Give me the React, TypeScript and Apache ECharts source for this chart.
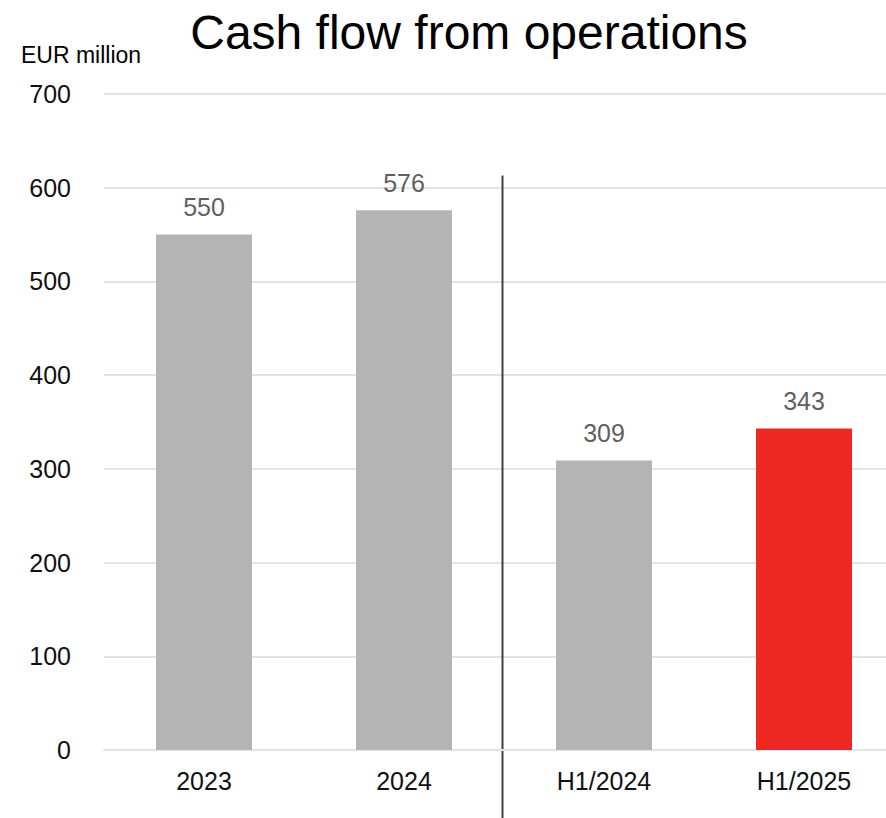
import React, { useEffect, useRef } from "react";
import * as echarts from "echarts";

const categories = ["2023", "2024", "H1/2024", "H1/2025"];
const values = [550, 576, 309, 343];
const barColors = ["#b4b4b4", "#b4b4b4", "#b4b4b4", "#ee2722"];
const yTicks = { min: 0, max: 700, interval: 100 };
const titleText = "Cash flow from operations";
const unitText = "EUR million";

const FONT = "'Liberation Sans', Arial, Helvetica, sans-serif";

export default function App() {
  const ref = useRef<HTMLDivElement>(null);
  useEffect(() => {
    if (!ref.current) return;
    const chart = echarts.init(ref.current, null, { renderer: "svg" });
    chart.setOption({
      animation: false,
      textStyle: { fontFamily: FONT },
      title: {
        text: titleText,
        left: 464,
        top: 3,
        textAlign: "center",
        textStyle: { fontFamily: FONT, fontSize: 48, fontWeight: "normal", color: "#000" },
      },
      grid: { left: 104, right: 0, top: 94, bottom: 68, containLabel: false },
      xAxis: {
        type: "category",
        data: categories,
        axisLine: { show: true, lineStyle: { color: "#e3e3e3", width: 2 } },
        axisTick: { show: false },
        axisLabel: { fontFamily: FONT, fontSize: 25, color: "#111", margin: 18 },
      },
      yAxis: {
        type: "value",
        min: yTicks.min,
        max: yTicks.max,
        interval: yTicks.interval,
        axisLine: { show: false },
        axisTick: { show: false },
        splitLine: { lineStyle: { color: "#e3e3e3", width: 2 } },
        axisLabel: { fontFamily: FONT, fontSize: 25, color: "#111", margin: 33 },
      },
      series: [
        {
          type: "bar",
          data: values.map((v, i) => ({ value: v, itemStyle: { color: barColors[i] } })),
          barWidth: 96,
          label: {
            show: true,
            position: "top",
            distance: 15,
            fontFamily: FONT,
            fontSize: 25,
            color: "#5f5f5f",
          },
        },
      ],
    });
    const p1 = chart.convertToPixel({ seriesIndex: 0 }, [1, 0]) as number[];
    const p2 = chart.convertToPixel({ seriesIndex: 0 }, [2, 613]) as number[];
    const xDiv = (p1[0] + p2[0]) / 2 - 1.5;
    chart.setOption({
      graphic: [
        {
          type: "text",
          left: 21,
          top: 43,
          style: { text: unitText, font: `23px ${FONT}`, fill: "#000" },
        },
        {
          type: "line",
          shape: { x1: xDiv, y1: p2[1], x2: xDiv, y2: 818 },
          style: { stroke: "#404040", lineWidth: 2 },
        },
      ],
    });
    return () => chart.dispose();
  }, []);
  return (
    <div
      style={{
        position: "fixed",
        left: 0,
        top: 0,
        width: 886,
        height: 818,
        overflow: "hidden",
        background: "#fff",
      }}
    >
      <div ref={ref} style={{ width: 904, height: 818 }} />
    </div>
  );
}
